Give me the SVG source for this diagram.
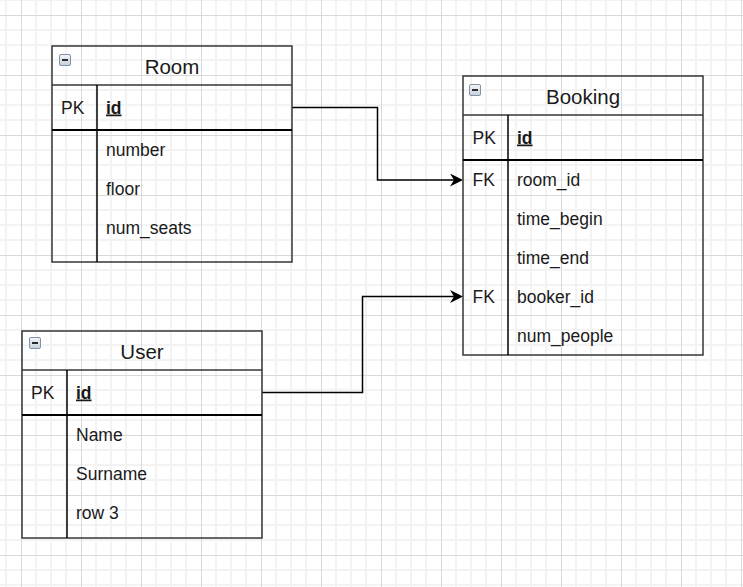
<svg xmlns="http://www.w3.org/2000/svg" width="743" height="587" viewBox="0 0 743 587">
<defs>
<pattern id="grid" x="21" y="15" width="60" height="60" patternUnits="userSpaceOnUse">
<path d="M15 0V60M30 0V60M45 0V60M0 15H60M0 30H60M0 45H60" stroke="#f3f3f3" stroke-width="2" fill="none"/>
<path d="M0.5 0V60M0 0.5H60" stroke="#d9d9d9" stroke-width="1" fill="none"/>
</pattern>
<linearGradient id="ico" x1="0" y1="0" x2="0" y2="1">
<stop offset="0" stop-color="#f4f6f9"/>
<stop offset="1" stop-color="#c6cfd9"/>
</linearGradient>
<marker id="arrow" markerUnits="userSpaceOnUse" viewBox="0 0 13 13" refX="5" refY="6.5" markerWidth="13" markerHeight="13" orient="auto">
<path d="M0,0 L13,6.5 L0,13 L4,6.5 Z" fill="#000"/>
</marker>
</defs>
<style>
.box{fill:none;stroke:#363636;stroke-width:1.5}
.hdr{stroke:#363636;stroke-width:1.5;fill:none}
.sep{stroke:#000;stroke-width:2;fill:none}
.div{stroke:#000;stroke-width:1.5;fill:none}
.title{font-family:"Liberation Sans",Arial,sans-serif;font-size:20.5px;fill:#1a1a1a;text-anchor:middle}
.t{font-family:"Liberation Sans",Arial,sans-serif;font-size:17.5px;fill:#1a1a1a}
.id{font-weight:bold;text-decoration:underline}
.icon{fill:url(#ico);stroke:#8393a7;stroke-width:1}
.minus{stroke:#2b2b2b;stroke-width:2}
.conn{fill:none;stroke:#000;stroke-width:1.5}
</style>
<rect width="743" height="587" fill="#fff"/>
<rect width="743" height="587" fill="url(#grid)"/>

<g id="connectors">
<path class="conn" d="M292 107.5H377.5V180H455" marker-end="url(#arrow)"/>
<path class="conn" d="M262 392.5H362.5V296.5H455" marker-end="url(#arrow)"/>
</g>

<g id="room">
<rect class="box" x="52" y="46" width="240" height="216"/>
<path class="hdr" d="M52 85H292"/>
<path class="sep" d="M52 130H292"/>
<path class="div" d="M97 85V262"/>
<rect class="icon" x="59.5" y="54.5" width="11" height="11" rx="1.5"/>
<path class="minus" d="M62 60H68"/>
<text class="title" x="172" y="74">Room</text>
<text class="t" x="61" y="113.5">PK</text>
<text class="t id" x="106" y="113.5">id</text>
<text class="t" x="106" y="155.5">number</text>
<text class="t" x="106" y="194.5">floor</text>
<text class="t" x="106" y="233.5">num_seats</text>
</g>

<g id="booking">
<rect class="box" x="463" y="76" width="240" height="279"/>
<path class="hdr" d="M463 115H703"/>
<path class="sep" d="M463 160H703"/>
<path class="div" d="M508 115V355"/>
<rect class="icon" x="469.5" y="84.5" width="11" height="11" rx="1.5"/>
<path class="minus" d="M472 90H478"/>
<text class="title" x="583" y="104">Booking</text>
<text class="t" x="472.5" y="143.5">PK</text>
<text class="t id" x="517" y="143.5">id</text>
<text class="t" x="472.5" y="185.5">FK</text>
<text class="t" x="517" y="185.5">room_id</text>
<text class="t" x="517" y="224.5">time_begin</text>
<text class="t" x="517" y="263.5">time_end</text>
<text class="t" x="472.5" y="302.5">FK</text>
<text class="t" x="517" y="302.5">booker_id</text>
<text class="t" x="517" y="341.5">num_people</text>
</g>

<g id="user">
<rect class="box" x="22" y="331" width="240" height="207"/>
<path class="hdr" d="M22 370H262"/>
<path class="sep" d="M22 415H262"/>
<path class="div" d="M67 370V538"/>
<rect class="icon" x="29.5" y="337.5" width="11" height="11" rx="1.5"/>
<path class="minus" d="M32 343H38"/>
<text class="title" x="142" y="359">User</text>
<text class="t" x="31" y="398.5">PK</text>
<text class="t id" x="76" y="398.5">id</text>
<text class="t" x="76" y="440.5">Name</text>
<text class="t" x="76" y="479.5">Surname</text>
<text class="t" x="76" y="518.5">row 3</text>
</g>
</svg>
